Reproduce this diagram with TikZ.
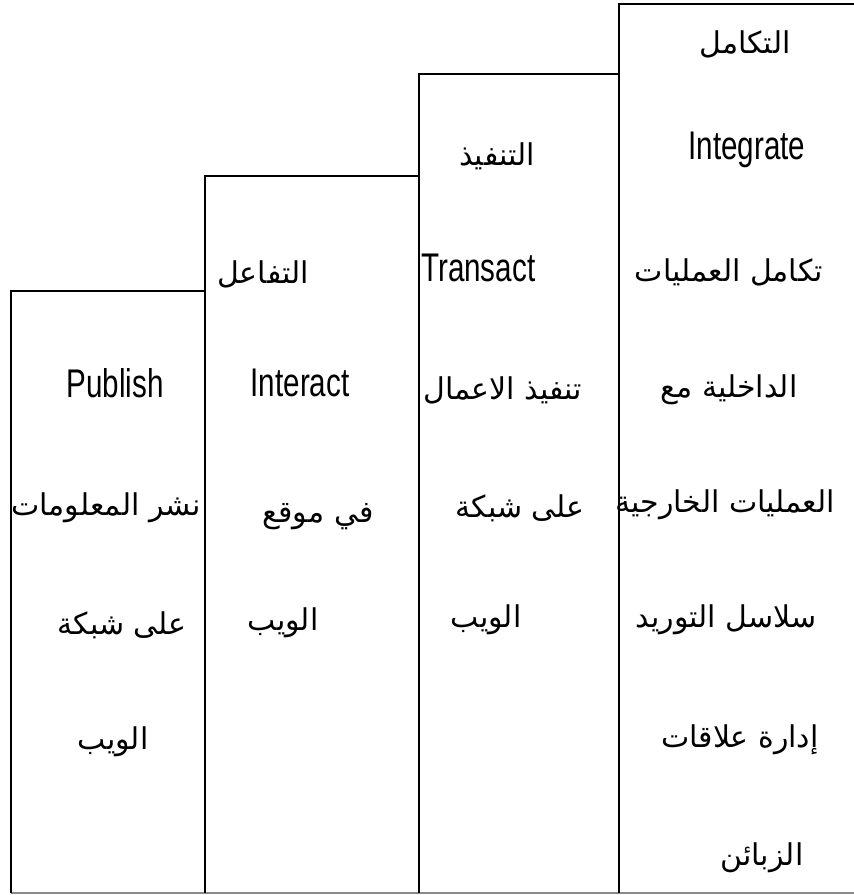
\documentclass[tikz,border=0pt]{standalone}
\usepackage{fontspec}
\TeXXeTstate=1
\newfontfamily\arabicfont[Script=Arabic]{DejaVu Sans}
\newfontfamily\narrowfont[FakeStretch=0.74]{Liberation Sans}
\newcommand{\ar}[1]{\arabicfont\beginR #1\endR}
\begin{document}
\begin{tikzpicture}[x=1pt,y=-1pt,
  col/.style={line width=2pt,black},
  base/.style={line width=1.5pt,black!45},
  en/.style={inner sep=0pt,font=\narrowfont\fontsize{40}{44}\selectfont},
  arb/.style={inner sep=0pt,font=\arabicfont\fontsize{30}{36}\selectfont}]
\useasboundingbox (0,0) rectangle (854,895);
% column corners
\coordinate (b1) at (11,893);
\coordinate (t1) at (11,291);
\coordinate (r1) at (205,291);
\coordinate (b2) at (205,893);
\coordinate (t2) at (205,176);
\coordinate (r2) at (419,176);
\coordinate (b3) at (419,893);
\coordinate (t3) at (419,74);
\coordinate (r3) at (619,74);
\coordinate (b4) at (619,893);
\coordinate (t4) at (619,4);
\coordinate (r4) at (854,4);
\coordinate (e4) at (854,893);
\draw[base] (b1) -- (e4);
\draw[col] (b1) -- (t1) -- (r1);
\draw[col] (b2) -- (t2) -- (r2);
\draw[col] (b3) -- (t3) -- (r3);
\draw[col] (b4) -- (t4) -- (r4);
% column 1
\node[en]  (p1) at (115,383) {Publish};
\node[arb] (p2) at (106,508) {\ar{نشر المعلومات}};
\node[arb] (p3) at (122,625) {\ar{على شبكة}};
\node[arb] (p4) at (113,742) {\ar{الويب}};
% column 2
\node[arb] (i0) at (263,274) {\ar{التفاعل}};
\node[en]  (i1) at (300,383) {Interact};
\node[arb] (i2) at (318,517) {\ar{في موقع}};
\node[arb] (i3) at (283,623) {\ar{الويب}};
% column 3
\node[arb] (s0) at (497,156) {\ar{التنفيذ}};
\node[en,anchor=west]  (s1) at (421,268) {Transact};
\node[arb,anchor=west] (s2) at (423,390) {\ar{تنفيذ الاعمال}};
\node[arb] (s3) at (520,508) {\ar{على شبكة}};
\node[arb] (s4) at (486,620) {\ar{الويب}};
% column 4
\node[arb] (g0) at (745,44) {\ar{التكامل}};
\node[en]  (g1) at (747,150) {Integrate};
\node[arb] (g2) at (729,272) {\ar{تكامل العمليات}};
\node[arb] (g3) at (729,390) {\ar{الداخلية مع}};
\node[arb] (g4) at (725,505) {\ar{العمليات الخارجية}};
\node[arb] (g5) at (726,620) {\ar{سلاسل التوريد}};
\node[arb] (g6) at (740,740) {\ar{إدارة علاقات}};
\node[arb] (g7) at (762,858) {\ar{الزبائن}};
\end{tikzpicture}
\end{document}
